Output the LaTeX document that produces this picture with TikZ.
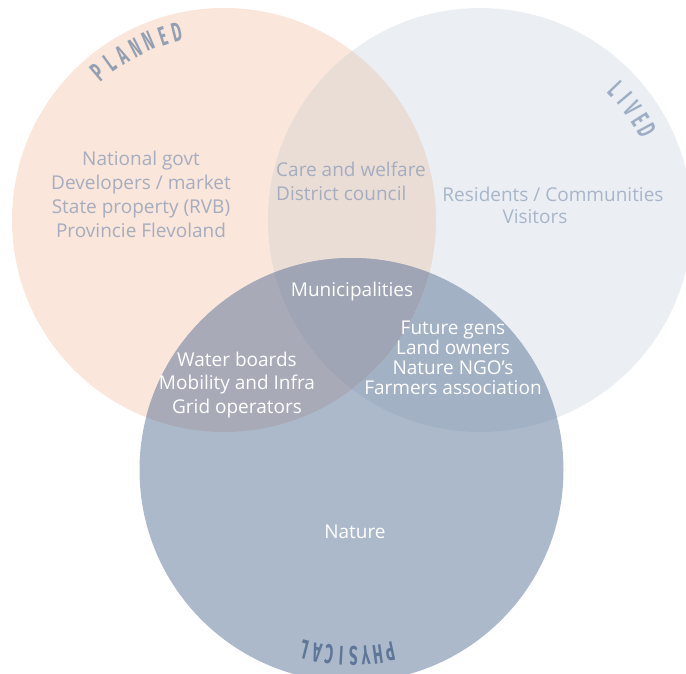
\documentclass[tikz,border=0pt]{standalone}
\usepackage{fontspec}
\setmainfont{Open Sans}
\newfontfamily\handfont{Fira Sans}
\usetikzlibrary{positioning}

\definecolor{plannedfill}{HTML}{FAE6DA}
\definecolor{livedfill}{HTML}{EBEEF3}
\definecolor{physfill}{HTML}{ACB9CB}
\definecolor{pllvfill}{HTML}{E9DDD6}
\definecolor{plphfill}{HTML}{A9AAB8}
\definecolor{lvphfill}{HTML}{A3B1C5}
\definecolor{allfill}{HTML}{9FA5B4}
\definecolor{greytext}{HTML}{A5ADBF}
\definecolor{livedtext}{HTML}{A8B6CA}
\definecolor{plannedlbl}{HTML}{939FB3}
\definecolor{livedlbl}{HTML}{9DAEC4}
\definecolor{physlbl}{HTML}{5E7697}

\tikzset{
  body/.style={font=\fontsize{19}{24}\selectfont, align=center, inner sep=0pt},
  lbl/.style={font=\handfont\bfseries\fontsize{27}{27}\selectfont, xscale=0.55, inner sep=0pt}
}

\begin{document}
\begin{tikzpicture}[x=1pt, y=1pt]
    \useasboundingbox (0,0) rectangle (686,-674);
    \clip (0,0) rectangle (686,-674);

    \coordinate (planned) at (224,-220);
    \coordinate (lived) at (480,-220);
    \coordinate (physical) at (351.5,-470);

    % the three circles
    \fill[plannedfill] (planned) circle (212pt);
    \fill[livedfill] (lived) circle (212pt);
    \fill[physfill] (physical) circle (212pt);

    % overlaps
    \begin{scope}
        \clip (lived) circle (212pt);
        \fill[lvphfill] (physical) circle (212pt);
    \end{scope}
    \begin{scope}
        \clip (planned) circle (212pt);
        \fill[pllvfill] (lived) circle (212pt);
        \fill[plphfill] (physical) circle (212pt);
        \clip (lived) circle (212pt);
        \fill[allfill] (physical) circle (212pt);
    \end{scope}

    % circle titles, letter by letter
    \foreach \ch [count=\i, evaluate=\i as \a using 130.4-4.4*(\i-1)] in {P,L,A,N,N,E,D}
        \node[rotate=\a-90, lbl, text=plannedlbl] (pl\i) at ([shift={(\a:194pt)}]planned) {\ch};
    \foreach \ch [count=\i, evaluate=\i as \a using 44-3.95*(\i-1)] in {L,I,V,E,D}
        \node[rotate=\a-90, lbl, text=livedlbl] (lv\i) at ([shift={(\a:189pt)}]lived) {\ch};
    \foreach \ch [count=\i, evaluate=\i as \a using -78.1-3.77*(\i-1)] in {P,H,Y,S,I,C,A,L}
        \node[rotate=\a-90, lbl, text=physlbl] (ph\i) at ([shift={(\a:186pt)}]physical) {\ch};

    \node[body, text=greytext] (govt) at (141,-194) {National govt\\Developers / market\\State property (RVB)\\Provincie Flevoland};
    \node[body, text=greytext, anchor=west, align=left] (care) at (276,-181) {Care and welfare\\District council};
    \node[body, text=livedtext] (residents) at (553,-194) {Residents / Communities};
    \node[body, text=livedtext] (visitors) at (535,-217) {Visitors};

    \node[body, text=white] (muni) at (352,-292) {Municipalities};
    \node[body, text=white, font=\fontsize{19}{20}\selectfont] (future) at (453,-358) {Future gens\\Land owners\\Nature NGO’s\\Farmers association};
    \node[body, text=white, font=\fontsize{19}{23.5}\selectfont] (water) at (237,-385) {Water boards\\Mobility and Infra\\Grid operators};
    \node[body, text=white] (nature) at (355,-532) {Nature};
\end{tikzpicture}
\end{document}
